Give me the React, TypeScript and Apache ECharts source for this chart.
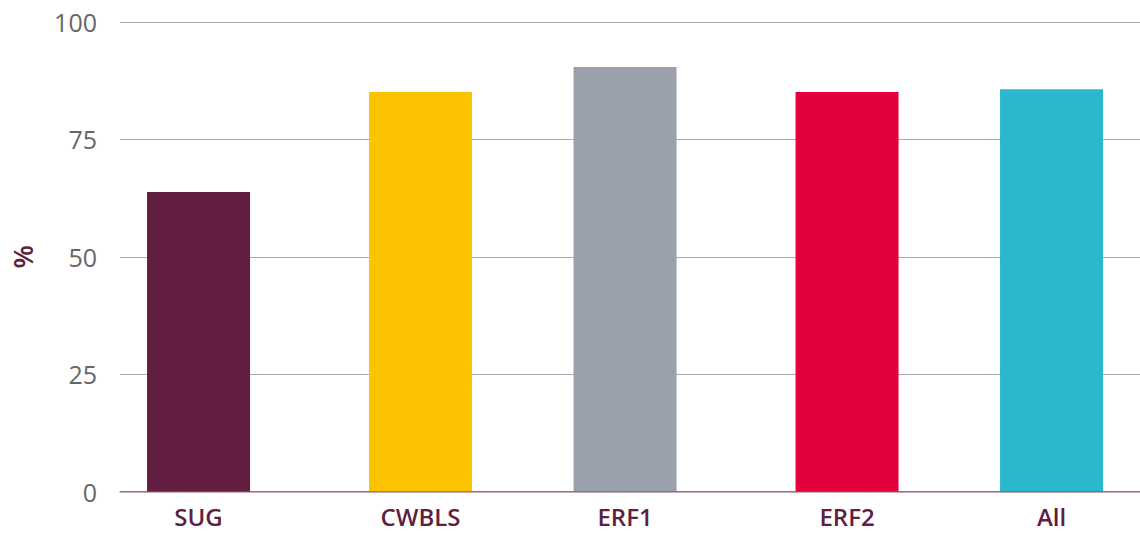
import React, { useEffect, useRef } from "react";
import * as echarts from "echarts";

const categories = ["SUG", "CWBLS", "ERF1", "ERF2", "All"];
const values = [63.8, 85.1, 90.4, 85.1, 85.7];
const colors = ["#611E40", "#FCC300", "#9AA0AC", "#E4003D", "#2BB7CE"];
const yTicks = { min: 0, max: 100, interval: 25 };

const FONT = "'Open Sans', 'Noto Sans', sans-serif";
const MAROON = "#611E40";

export default function App() {
  const ref = useRef<HTMLDivElement>(null);
  useEffect(() => {
    if (!ref.current) return;
    const chart = echarts.init(ref.current, undefined, { renderer: "svg" });
    const seriesA = values.map((v, i) => (i % 2 === 0 ? { value: v, itemStyle: { color: colors[i] } } : "-"));
    const seriesB = values.map((v, i) => (i % 2 === 1 ? { value: v, itemStyle: { color: colors[i] } } : "-"));
    const labelStyle = { fontSize: 24, fontWeight: 600 as const, color: MAROON, fontFamily: FONT };
    chart.setOption({
      animation: false,
      grid: [
        { left: 120, right: 0, top: 22, bottom: 41.5, outerBoundsMode: "none", containLabel: false },
        { left: 96.3, width: 1066.25, top: 22, bottom: 41.5, outerBoundsMode: "none", containLabel: false },
      ],
      xAxis: [
        {
          gridIndex: 0,
          type: "category",
          data: categories,
          z: 10,
          axisLine: { show: true, lineStyle: { color: "rgba(97,30,64,0.5)", width: 1.5 } },
          axisTick: { show: false },
          axisLabel: { show: false },
          splitLine: { show: false },
        },
        {
          gridIndex: 1,
          type: "category",
          data: categories,
          axisLine: { show: false },
          axisTick: { show: false },
          splitLine: { show: false },
          axisLabel: {
            margin: 13,
            ...labelStyle,
            formatter: (v: string, i: number) => (i % 2 === 0 ? `{a|${v}}` : `{b|${v}}`),
            rich: {
              a: { ...labelStyle, padding: [0, 8.75, 0, 0] },
              b: { ...labelStyle, padding: [0, 0, 0, 8.75] },
            },
          },
        },
      ],
      yAxis: [
        {
          gridIndex: 0,
          type: "value",
          ...yTicks,
          name: "%",
          nameLocation: "middle",
          nameRotate: 90,
          nameGap: 84,
          nameTextStyle: { fontSize: 27, fontWeight: 600, color: MAROON, fontFamily: FONT },
          axisLine: { show: false },
          axisTick: { show: false },
          axisLabel: { margin: 23, fontSize: 25, color: "#666", fontFamily: FONT },
          splitLine: { show: true, lineStyle: { color: "#A8ABB9", width: 1 } },
        },
        {
          gridIndex: 1,
          type: "value",
          ...yTicks,
          show: false,
          splitLine: { show: false },
        },
      ],
      series: [
        {
          type: "bar",
          xAxisIndex: 1,
          yAxisIndex: 1,
          data: seriesA,
          barWidth: 103,
          barGap: "-91.5%",
        },
        {
          type: "bar",
          xAxisIndex: 1,
          yAxisIndex: 1,
          data: seriesB,
          barWidth: 103,
          barGap: "-91.5%",
        },
      ],
    });
    return () => chart.dispose();
  }, []);
  return (
    <div
      ref={ref}
      style={{ position: "absolute", left: 0, top: 0, width: 1140, height: 533, background: "#fff" }}
    />
  );
}
